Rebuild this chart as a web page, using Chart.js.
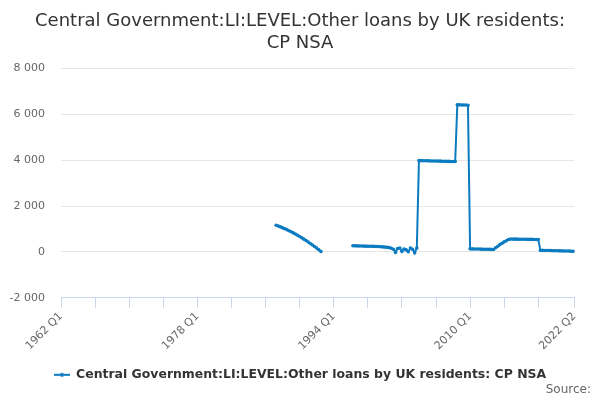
<!DOCTYPE html>
<html lang="en">
<head>
<meta charset="UTF-8">
<title>Other loans by UK residents</title>
<script src="https://cdn.jsdelivr.net/npm/chart.js@4"></script>
<style>
  html, body { margin: 0; padding: 0; background: #fff; }
  #wrap { width: 600px; height: 400px; }
</style>
</head>
<body>
<div id="wrap"><canvas id="chart" width="600" height="400"></canvas></div>
<script>
// quarters on the x axis
const FIRST_YEAR = 1962;
const LAST_LABEL = '2022 Q2';
const tickLabels = ['1962 Q1', '1978 Q1', '1994 Q1', '2010 Q1', '2022 Q2'];
const tickMarks = ['1962 Q1', '1966 Q1', '1970 Q1', '1974 Q1', '1978 Q1', '1982 Q1', '1986 Q1', '1990 Q1',
  '1994 Q1', '1998 Q1', '2002 Q1', '2006 Q1', '2010 Q1', '2014 Q1', '2018 Q1', '2022 Q2'];

// first run of data, 1987 Q2 - 1992 Q3
const seg1Start = '1987 Q2';
const seg1Values = [1160, 1125, 1090, 1050, 1010, 970, 925, 880, 830, 780, 728,
  672, 615, 558, 498, 435, 370, 305, 238, 168, 95, 20];

// second run, 1996 Q2 - 2022 Q2
const seg2Start = '1996 Q2';
const seg2Values = [270, 265, 262, 260, 258, 255, 252, 250, 248, 245, 242, 240, 238,
  225, 220, 210, 200, 190, 160, 120, -20, 150, 170, 20, 130, 90, 10, 170, 120, -40, 170,
  3980, 3975, 3972, 3970, 3968, 3965, 3962, 3960, 3958, 3955, 3952, 3950, 3948, 3945, 3942, 3940, 3938, 3935,
  6410, 6405, 6400, 6400, 6395, 6390,
  135, 132, 130, 128, 125, 122, 120, 118, 115, 112, 110, 108,
  180, 250, 320, 380, 440, 490, 540, 560,
  560, 558, 556, 555, 553, 552, 550, 548, 546, 545, 543, 540, 538,
  70, 68, 65, 62, 60, 58, 55, 52, 50, 48, 45, 42, 40, 38, 35, 30, 28];

const SERIES_NAME = 'Central Government:LI:LEVEL:Other loans by UK residents: CP NSA';
const TITLE = ['Central Government:LI:LEVEL:Other loans by UK residents:', 'CP NSA'];
const SOURCE = 'Source:';
const BLUE = '#0b7bc1';

const quarters = [];
for (let y = FIRST_YEAR; ; y++) {
  let done = false;
  for (let q = 1; q <= 4; q++) {
    const lab = y + ' Q' + q;
    quarters.push(lab);
    if (lab === LAST_LABEL) { done = true; break; }
  }
  if (done) break;
}

const points = [];
const addRun = (start, values) => {
  const i0 = quarters.indexOf(start);
  values.forEach((v, k) => points.push({ x: i0 + k, y: v }));
};
addRun(seg1Start, seg1Values);
points.push({ x: quarters.indexOf(seg1Start) + seg1Values.length, y: null });
addRun(seg2Start, seg2Values);

// legend symbol: line with a dot, like the source chart
const sym = document.createElement('canvas');
sym.width = 16; sym.height = 8;
const sc = sym.getContext('2d');
sc.strokeStyle = BLUE; sc.lineWidth = 2;
sc.beginPath(); sc.moveTo(0, 4); sc.lineTo(16, 4); sc.stroke();
sc.fillStyle = BLUE;
sc.beginPath(); sc.arc(8, 4, 2, 0, Math.PI * 2); sc.fill();

const fmt = v => {
  const s = Math.abs(v).toString().replace(/\B(?=(\d{3})+(?!\d))/g, ' ');
  return (v < 0 ? '-' : '') + s;
};

// "Source:" credit in the bottom right corner
const sourceCredit = {
  id: 'sourceCredit',
  afterDraw: chart => {
    const ctx = chart.ctx;
    ctx.save();
    ctx.font = "12px 'DejaVu Sans', sans-serif";
    ctx.fillStyle = '#666666';
    ctx.textAlign = 'right';
    ctx.textBaseline = 'middle';
    ctx.fillText(SOURCE, chart.width - 9, 390);
    ctx.restore();
  }
};

Chart.defaults.font.family = "'DejaVu Sans', sans-serif";

new Chart(document.getElementById('chart').getContext('2d'), {
  type: 'line',
  data: {
    datasets: [{
      label: SERIES_NAME,
      data: points,
      borderColor: BLUE,
      backgroundColor: BLUE,
      borderWidth: 2,
      pointRadius: 1.8,
      pointHoverRadius: 3,
      pointBorderWidth: 0,
      pointStyle: 'circle',
      spanGaps: false,
      tension: 0
    }]
  },
  plugins: [sourceCredit],
  options: {
    responsive: false,
    animation: false,
    devicePixelRatio: 1,
    layout: { padding: { left: 8, right: 8, top: 0, bottom: 9 } },
    plugins: {
      title: {
        display: true,
        text: TITLE,
        color: '#333333',
        font: { size: 18, weight: 'normal' },
        padding: { top: 11, bottom: 14 }
      },
      legend: {
        position: 'bottom',
        labels: {
          usePointStyle: true,
          pointStyle: sym,
          pointStyleWidth: 16,
          color: '#333333',
          font: { size: 12.45, weight: 'bold' },
          padding: 1,
          generateLabels: chart => [{
            text: SERIES_NAME,
            pointStyle: sym,
            fontColor: '#333333',
            strokeStyle: BLUE,
            fillStyle: BLUE,
            lineWidth: 0,
            datasetIndex: 0
          }]
        }
      },
      tooltip: { enabled: false }
    },
    scales: {
      x: {
        type: 'linear',
        min: 0,
        max: quarters.length - 1,
        afterBuildTicks: axis => {
          axis.ticks = tickMarks.map(l => ({ value: quarters.indexOf(l) }));
        },
        // extra room between the rotated labels and the legend
        afterFit: axis => { axis.height += 13; },
        ticks: {
          autoSkip: false,
          minRotation: 45,
          maxRotation: 45,
          color: '#666666',
          font: { size: 11 },
          padding: 2,
          callback: v => tickLabels.includes(quarters[v]) ? quarters[v] : ''
        },
        grid: {
          drawOnChartArea: false,
          drawTicks: true,
          tickLength: 10,
          tickColor: '#ccd6eb'
        },
        border: { color: '#ccd6eb', width: 1 }
      },
      y: {
        min: -2000,
        max: 8000,
        afterFit: axis => { axis.width = 53; },
        ticks: {
          stepSize: 2000,
          color: '#666666',
          font: { size: 11 },
          padding: 16,
          callback: v => fmt(v)
        },
        grid: { color: '#e6e6e6', drawTicks: false },
        border: { display: false }
      },
      // empty right-hand axis, only reserves the gap right of the plot
      yGap: {
        position: 'right',
        afterFit: axis => { axis.width = 17.5; },
        ticks: { display: false },
        grid: { drawOnChartArea: false, drawTicks: false },
        border: { display: false }
      }
    }
  }
});
</script>
</body>
</html>
